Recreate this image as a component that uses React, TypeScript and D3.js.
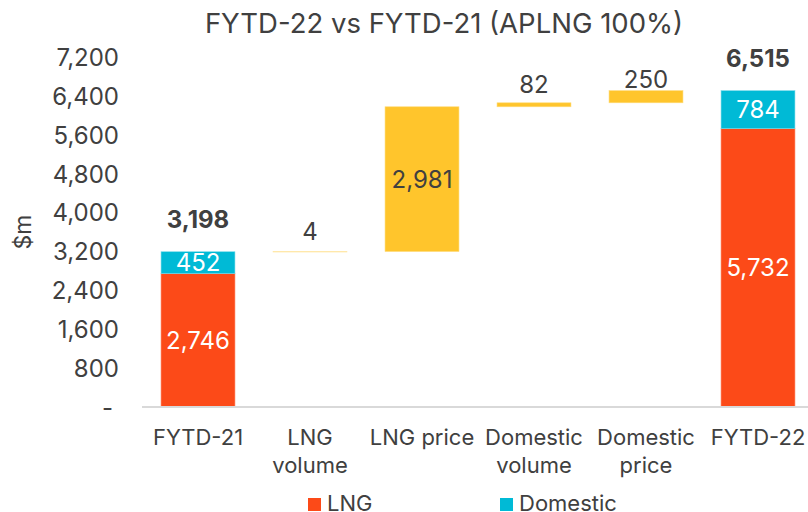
import React from "react";
import * as d3 from "d3";

const categories = ["FYTD-21", "LNG volume", "LNG price", "Domestic volume", "Domestic price", "FYTD-22"];
const categoryLines = [["FYTD-21"], ["LNG", "volume"], ["LNG price"], ["Domestic", "volume"], ["Domestic", "price"], ["FYTD-22"]];
const lngValues = [2746, 0, 0, 0, 0, 5732];
const domesticValues = [452, 0, 0, 0, 0, 784];
const deltaValues = [0, 4, 2981, 82, 250, 0];
const isTotal = [true, false, false, false, false, true];
const totalLabels = ["3,198", "", "", "", "", "6,515"];
const yTicks = [0, 800, 1600, 2400, 3200, 4000, 4800, 5600, 6400, 7200];
const deltaLabelGap = [0, 12, 0, 10, 3, 0];

const W = 808;
const H = 512;
const ORANGE = "#FC4A18";
const CYAN = "#00BAD6";
const YELLOW = "#FFC52C";
const TEXT = "#404040";
const FONT = "Inter, 'Noto Sans', sans-serif";

export default function App() {
  const x = d3.scaleBand<string>().domain(categories).range([142, 814]).paddingInner(0.34).paddingOuter(0.17);
  const y = d3.scaleLinear().domain([0, 7200]).range([407, 57.4]);
  const fmt = d3.format(",");

  // waterfall bases
  const bases: number[] = [];
  let running = 0;
  categories.forEach((c, i) => {
    if (isTotal[i]) {
      bases.push(0);
      running = lngValues[i] + domesticValues[i];
    } else {
      bases.push(running);
      running += deltaValues[i];
    }
  });

  return (
    <div style={{ position: "fixed", left: 0, top: 0, width: W, height: H, overflow: "hidden" }}>
      <svg width={W} height={H} style={{ display: "block", fontFamily: FONT }}>
        <rect width={W} height={H} fill="#fff" />
        <text x={444} y={33} textAnchor="middle" fontSize={27.5} fill={TEXT}>
          FYTD-22 vs FYTD-21 (APLNG 100%)
        </text>
        <text transform={`translate(31,232) rotate(-90)`} textAnchor="middle" fontSize={23} fill={TEXT}>
          $m
        </text>
        {yTicks.map((t) => (
          <text key={t} x={t === 0 ? 113 : 119} y={y(t)} dy="0.36em" textAnchor="end" fontSize={24} fill={TEXT}>
            {t === 0 ? "-" : fmt(t)}
          </text>
        ))}
        {categories.map((c, i) => {
          const x0 = x(c)!;
          const bw = x.bandwidth();
          const cx = x0 + bw / 2;
          if (isTotal[i]) {
            const lng = lngValues[i];
            const dom = domesticValues[i];
            const topY = y(lng + dom);
            return (
              <g key={c}>
                <rect x={x0} y={y(lng)} width={bw} height={y(0) - y(lng)} fill={ORANGE} stroke="#FF8A66" strokeWidth={0.6} />
                <rect x={x0} y={topY} width={bw} height={y(lng) - topY} fill={CYAN} stroke="#7FDDEB" strokeWidth={0.6} />
                <text x={cx} y={(y(0) + y(lng)) / 2} dy="0.36em" textAnchor="middle" fontSize={24} fill="#fff">
                  {fmt(lng)}
                </text>
                <text x={cx} y={(y(lng) + topY) / 2} dy="0.36em" textAnchor="middle" fontSize={24} fill="#fff">
                  {fmt(dom)}
                </text>
                <text x={cx} y={topY - 24} textAnchor="middle" fontSize={24} fontWeight={700} fill={TEXT}>
                  {totalLabels[i]}
                </text>
              </g>
            );
          }
          const b = bases[i];
          const v = deltaValues[i];
          const top = y(b + v);
          const bot = y(b);
          const h = Math.max(bot - top, 0.5);
          const big = bot - top > 60;
          return (
            <g key={c}>
              <rect
                x={x0}
                y={top}
                width={bw}
                height={h}
                fill={h < 1 ? "#FFE7A6" : YELLOW}
                stroke={h < 1 ? "#FFE7A6" : "#FFDB7A"}
                strokeWidth={0.6}
              />
              {big ? (
                <text x={cx} y={(top + bot) / 2} dy="0.36em" textAnchor="middle" fontSize={24} fill={TEXT}>
                  {fmt(v)}
                </text>
              ) : (
                <text x={cx} y={top - deltaLabelGap[i]} textAnchor="middle" fontSize={24} fill={TEXT}>
                  {fmt(v)}
                </text>
              )}
            </g>
          );
        })}
        <line x1={142} x2={W} y1={y(0)} y2={y(0)} stroke="#D9D9D9" strokeWidth={2} />
        {categories.map((c, i) => {
          const cx = x(c)! + x.bandwidth() / 2;
          return (
            <text key={c} x={cx} y={445} textAnchor="middle" fontSize={22} fill={TEXT}>
              {categoryLines[i].map((l, j) => (
                <tspan key={j} x={cx} dy={j === 0 ? 0 : 28}>
                  {l}
                </tspan>
              ))}
            </text>
          );
        })}
        <rect x={308} y={498} width={13} height={13} fill={ORANGE} />
        <text x={327} y={511} fontSize={22} fill={TEXT}>LNG</text>
        <rect x={500} y={498} width={13} height={13} fill={CYAN} />
        <text x={519} y={511} fontSize={22} fill={TEXT}>Domestic</text>
      </svg>
    </div>
  );
}
